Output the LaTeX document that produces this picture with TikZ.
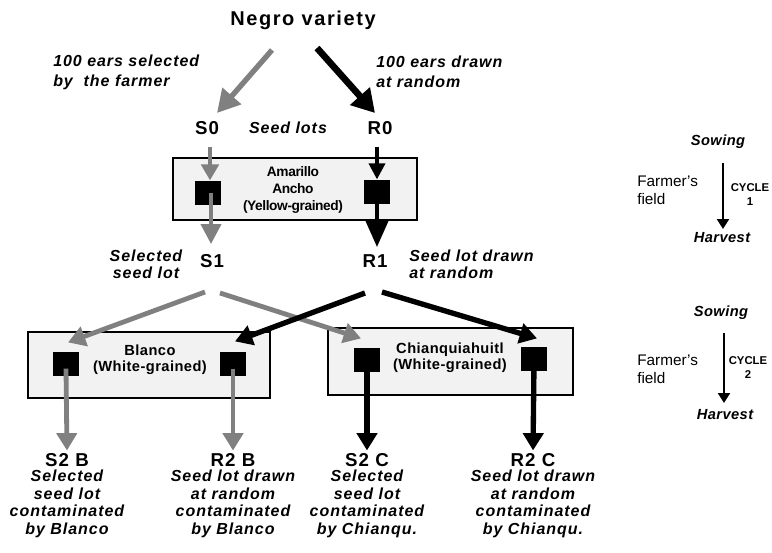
\documentclass[tikz,border=0pt]{standalone}
\usepackage{fontspec}
\setmainfont{Liberation Sans}
\newfontfamily\spaced[LetterSpace=6]{Liberation Sans}
\newfontfamily\wide[LetterSpace=8]{Liberation Sans}
\newfontfamily\tight[LetterSpace=-3]{Liberation Sans}
\newfontfamily\slight[LetterSpace=3]{Liberation Sans}
\usetikzlibrary{arrows.meta}
\begin{document}
\begin{tikzpicture}[x=0.75pt,y=-0.75pt,
  title/.style={font=\wide\fontsize{15}{18}\selectfont\bfseries, inner sep=0},
  lbl/.style={font=\spaced\fontsize{12}{12.75}\selectfont\bfseries\itshape, align=center, inner sep=0},
  lbll/.style={lbl, align=left},
  toplbl/.style={font=\spaced\fontsize{12}{15}\selectfont\bfseries\itshape, align=left, inner sep=0},
  lot/.style={font=\spaced\fontsize{14}{16}\selectfont\bfseries, inner sep=0},
  boxtxta/.style={font=\tight\fontsize{10.3}{12.75}\selectfont\bfseries, align=center, inner sep=0},
  boxtxt/.style={font=\slight\fontsize{11}{12}\selectfont\bfseries, align=center, inner sep=0},
  bottom/.style={font=\spaced\fontsize{12}{13.2}\selectfont\bfseries\itshape, align=center, inner sep=0},
  field/.style={draw=black, line width=2.2pt, fill=gray!10},
  sq/.style={fill=black, minimum width=19pt, minimum height=18.5pt, inner sep=0},
  gcol/.style={draw=black!50},
  garrow/.style={gcol, line width=3.6pt, -{Triangle[length=13pt,width=15pt]}},
  barrow/.style={draw=black, line width=4pt, -{Triangle[length=13pt,width=15pt]}},
  side/.style={font=\fontsize{11.5}{13.5}\selectfont, align=left, inner sep=0},
  sideb/.style={font=\slight\fontsize{11}{12}\selectfont\bfseries\itshape, inner sep=0},
  cyc/.style={font=\fontsize{8.5}{10.5}\selectfont\bfseries, align=center, inner sep=0},
  sidearrow/.style={line width=1.6pt, -{Triangle[length=7.5pt,width=9pt]}},
]
\useasboundingbox (0,0) rectangle (772,553);

% title
\node[title] (negro) at (303,20) {Negro variety};
\coordinate (ng1) at (272,50);
\coordinate (nb1) at (317,48);
\node[toplbl, anchor=west] (sellbl) at (53,72) {100 ears selected\\by \ the farmer};
\node[toplbl, anchor=west] (randlbl) at (376,72) {100 ears drawn\\at random};

% seed lots
\node[lot] (S0) at (207,128) {S0};
\node[lbl] (seedlots) at (288,128) {Seed lots};
\node[lot] (R0) at (380,128) {R0};
\coordinate (s0tip) at (217,113);
\coordinate (r0tip) at (375,113);
\draw[garrow, line width=4pt, -{Triangle[length=17pt,width=18pt]}] (ng1) -- (s0tip);
\draw[barrow, line width=5pt, -{Triangle[length=17pt,width=19pt]}] (nb1) -- (r0tip);

% cycle 1 box
\draw[field] (173,158) rectangle (417,220);
\node[sq] (A1) at (208,193) {};
\node[sq] (A2) at (377,192) {};
\node[boxtxta] (amar) at (293,190) {Amarillo\\Ancho\\(Yellow-grained)};

\node[lot] (S1) at (212,261) {S1};
\node[lot] (R1) at (375,261) {R1};
\node[lbl] (sellot) at (146,264) {Selected\\seed lot};
\node[lbll, anchor=west] (randlot) at (409,264) {Seed lot drawn\\at random};

\coordinate (s0b) at (210,147);
\coordinate (r0b) at (377,147);
\coordinate (s1t) at (211,244);
\coordinate (r1t) at (377,247);
\draw[garrow, line width=3pt, -{Triangle[length=12pt,width=13pt]}] (s0b) -- (A1.north -| s0b);
\draw[garrow, line width=3pt, -{Triangle[length=15pt,width=15pt]}] (A1.center -| s1t) -- (s1t);
\draw[barrow, line width=2.6pt, -{Triangle[length=12pt,width=12pt]}] (r0b) -- (A2.north);
\draw[barrow, line width=2.6pt, -{Triangle[length=20pt,width=17pt]}] (A2.center) -- (r1t);

% cycle 2 boxes
\draw[field] (28,332) rectangle (270,398);
\draw[field] (328,328) rectangle (573,395);
\node[sq] (B1) at (66,364) {};
\node[sq] (B2) at (233,364) {};
\node[sq] (C1) at (367,360) {};
\node[sq] (C2) at (534,359) {};
\node[boxtxt] (blanco) at (150,360) {Blanco\\(White-grained)};
\node[boxtxt] (chian) at (450,358) {Chianquiahuitl\\(White-grained)};

\coordinate (s1a) at (205,292);
\coordinate (s1b) at (220,293);
\coordinate (r1a) at (365,293);
\coordinate (r1b) at (382,292);
\draw[garrow] (s1a) -- ([shift={(2,-9)}]B1.north);
\draw[garrow] (s1b) -- ([shift={(-6,-9)}]C1.north);
\draw[barrow] (r1a) -- ([shift={(2,-10)}]B2.north);
\draw[barrow] (r1b) -- ([shift={(3,-8)}]C2.north);

% bottom labels
\node[lot] (S2B) at (67,460) {S2 B};
\node[lot] (R2B) at (233,460) {R2 B};
\node[lot] (S2C) at (367,460) {S2 C};
\node[lot] (R2C) at (533,460) {R2 C};
\node[bottom] (tS2B) at (67,504) {Selected\\seed lot\\contaminated\\by Blanco};
\node[bottom] (tR2B) at (233,504) {Seed lot drawn\\at random\\contaminated\\by Blanco};
\node[bottom] (tS2C) at (367,504) {Selected\\seed lot\\contaminated\\by Chianqu.};
\node[bottom] (tR2C) at (533,504) {Seed lot drawn\\at random\\contaminated\\by Chianqu.};

\draw[garrow, shorten >=2pt] ([yshift=6]B1.south) -- (S2B.north);
\draw[garrow, shorten >=2pt] ([yshift=6]B2.south) -- (R2B.north);
\draw[barrow, shorten >=2pt] ([yshift=6]C1.south) -- (S2C.north);
\draw[barrow, shorten >=2pt] ([yshift=6]C2.south) -- (R2C.north);

% right side cycles
\node[sideb] (sow1) at (718,142) {Sowing};
\node[sideb] (har1) at (722,238) {Harvest};
\node[side, anchor=west] (ff1) at (637,190) {Farmer's\\field};
\node[cyc] (cy1) at (750,195) {CYCLE\\1};
\coordinate (ar1s) at (723,163);
\coordinate (ar1e) at (723,229);
\draw[sidearrow] (ar1s) -- (ar1e);

\node[sideb] (sow2) at (721,313) {Sowing};
\node[sideb] (har2) at (725,415) {Harvest};
\node[side, anchor=west] (ff2) at (637,369) {Farmer's\\field};
\node[cyc] (cy2) at (748,368) {CYCLE\\2};
\coordinate (ar2s) at (724,333);
\coordinate (ar2e) at (724,403);
\draw[sidearrow] (ar2s) -- (ar2e);
\end{tikzpicture}
\end{document}
